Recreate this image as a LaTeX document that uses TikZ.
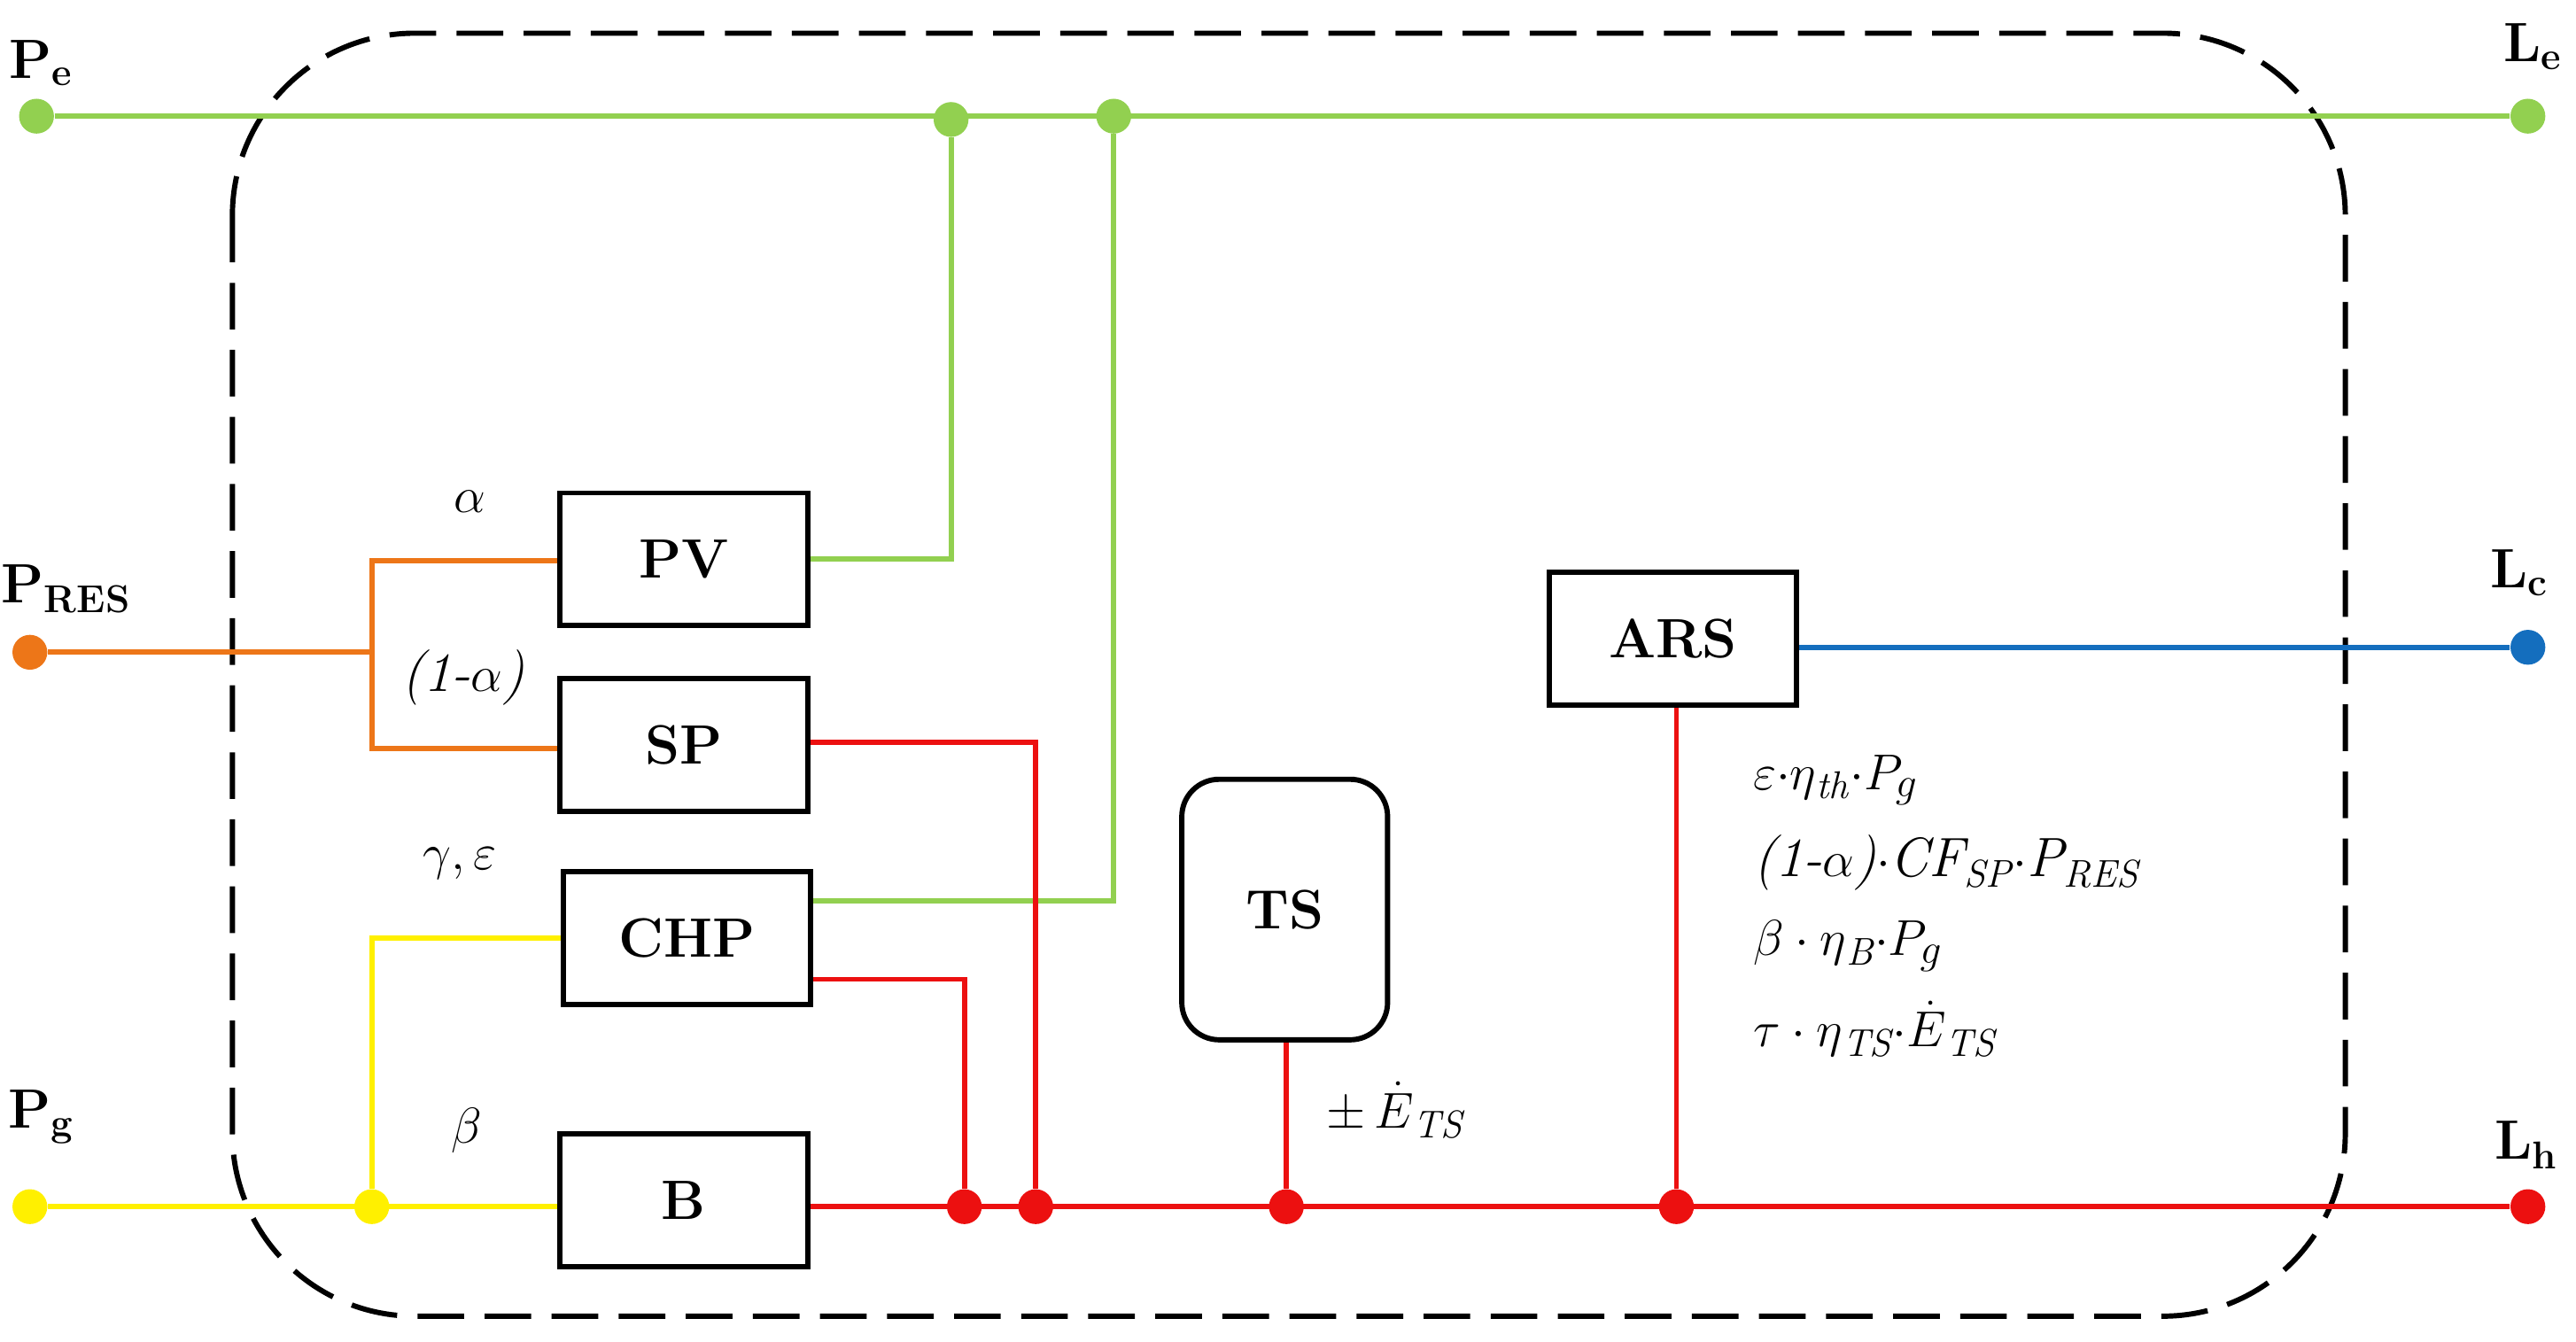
\documentclass[tikz,border=0pt]{standalone}
\usepackage{amsmath}
\begin{document}
\begin{tikzpicture}[x=0.02cm,y=-0.02cm,
  box/.style={draw,line width=1.8pt,minimum width=2.98cm,minimum height=1.6cm,font=\fontsize{19}{22}\selectfont\bfseries},
  w/.style={line width=1.8pt},
  dot/.style={circle,fill=#1,inner sep=0pt,minimum size=0.42cm},
  lab/.style={font=\fontsize{19}{22}\selectfont\bfseries},
  it/.style={font=\fontsize{19}{22}\selectfont\itshape},
  ]
\definecolor{gr}{RGB}{146,208,80}
\definecolor{orr}{RGB}{237,118,24}
\definecolor{ye}{RGB}{255,240,0}
\definecolor{rd}{RGB}{236,16,16}
\definecolor{bl}{RGB}{20,110,190}
\useasboundingbox (0,0) rectangle (1552,808.5);
\draw[line width=1.8pt,dash pattern=on 16pt off 7pt,rounded corners=2.2cm] (140,20) rectangle (1413,793);
% boxes
\node[box] (PV) at (412,337) {PV};
\node[box] (SP) at (412,449) {SP};
\node[box] (CHP) at (414,565) {CHP};
\node[box] (B) at (412,723) {B};
\node[box,rounded corners=0.45cm,minimum width=2.48cm,minimum height=3.14cm] (TS) at (774,548) {TS};
\node[box] (ARS) at (1008,385) {ARS};
% dots
\node[dot=gr] (Pe) at (22,70) {};
\node[dot=gr] (g1) at (573,72) {};
\node[dot=gr] (g2) at (671,70) {};
\node[dot=gr] (Le) at (1523,70) {};
\node[dot=orr] (Pres) at (18,393) {};
\node[dot=bl] (Lc) at (1523,390) {};
\node[dot=ye] (Pg) at (18,727) {};
\node[dot=ye] (y1) at (224,727) {};
\node[dot=rd] (r1) at (581,727) {};
\node[dot=rd] (r2) at (624,727) {};
\node[dot=rd] (r3) at (775,727) {};
\node[dot=rd] (r4) at (1010,727) {};
\node[dot=rd] (Lh) at (1523,727) {};
\coordinate (ob) at (224,393);
% green
\draw[w,gr] (Pe) -- (Le);
\draw[w,gr] (PV.east) -- (573,337) -- (g1);
\draw[w,gr] (CHP.east |- 0,543) -- (671,543) -- (g2);
% orange
\draw[w,orr] (Pres) -- (ob);
\draw[w,orr] (PV.west |- 0,338) -- (224,338) -- (224,451) -- (SP.west |- 0,451);
% yellow
\draw[w,ye] (Pg) -- (B.west |- 0,727);
\draw[w,ye] (y1) -- (224,565) -- (CHP.west);
% red
\draw[w,rd] (B.east |- 0,727) -- (Lh);
\draw[w,rd] (CHP.east |- 0,590) -- (581,590) -- (r1);
\draw[w,rd] (SP.east |- 0,447) -- (624,447) -- (r2);
\draw[w,rd] (TS.south -| r3) -- (r3);
\draw[w,rd] (ARS.south -| r4) -- (r4);
% blue
\draw[w,bl] (ARS.east |- 0,390) -- (Lc);
% labels
\node[lab] at (25,38) {P\textsubscript{e}};
\node[lab] at (1526,28) {L\textsubscript{e}};
\node[lab] at (40,355) {P\textsubscript{RES}};
\node[lab] at (1518,345) {L\textsubscript{c}};
\node[lab] at (25,673) {P\textsubscript{g}};
\node[lab] at (1522,690) {L\textsubscript{h}};
\node[it] at (283,302) {$\alpha$};
\node[it] at (279,408) {(1-$\alpha$)};
\node[it] at (277,520) {$\gamma,\varepsilon$};
\node[it] at (281,681) {$\beta$};
\node[it,anchor=west] at (793,669) {$\pm\,\dot{E}$\textsubscript{TS}};
\node[it,anchor=west] at (1050,470) {$\varepsilon$$\cdot\eta$\textsubscript{th}$\cdot P_g$};
\node[it,anchor=west] at (1050,520) {(1-$\alpha$)$\cdot$CF\textsubscript{SP}$\cdot$P\textsubscript{RES}};
\node[it,anchor=west] at (1050,570) {$\beta\cdot\eta$\textsubscript{B}$\cdot P_g$};
\node[it,anchor=west] at (1050,620) {$\tau\cdot\eta$\textsubscript{TS}$\cdot\dot{E}$\textsubscript{TS}};
\end{tikzpicture}
\end{document}
